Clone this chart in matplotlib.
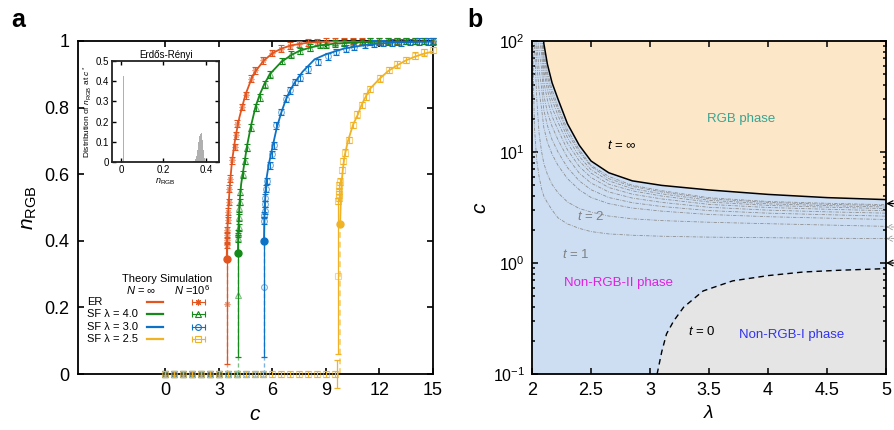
import numpy as np
import matplotlib
matplotlib.use("Agg")
import matplotlib.pyplot as plt
from matplotlib.ticker import FormatStrFormatter, MultipleLocator, LogLocator, NullFormatter

plt.rcParams["font.family"] = ["Liberation Sans", "DejaVu Sans"]
plt.rcParams["mathtext.fontset"] = "custom"
plt.rcParams["mathtext.rm"] = "Liberation Sans"
plt.rcParams["mathtext.it"] = "Liberation Sans:italic"
plt.rcParams["mathtext.bf"] = "Liberation Sans:bold"

# ---------------- panel a data ----------------
series_labels = ["ER", "SF λ = 4.0", "SF λ = 3.0", "SF λ = 2.5"]
series_colors = ["#e2551f", "#16891b", "#0d72c6", "#f0b325"]
sim_markers = [(8, 2, 0), "^", "o", "s"]

# theory (N = inf), first point is the jump at c*
er_th_c = [3.44, 3.46, 3.5, 3.55, 3.6, 3.67, 3.74, 3.9, 4.0, 4.15, 4.32, 4.5, 4.82, 5.0,
           5.5, 6.0, 6.5, 7.0, 7.5, 8.0, 9.0, 10.0, 12.0, 15.0]
er_th_n = [0.345, 0.40, 0.46, 0.51, 0.555, 0.60, 0.64, 0.70, 0.73, 0.77, 0.805, 0.84, 0.885, 0.905,
           0.94, 0.963, 0.977, 0.986, 0.991, 0.995, 0.998, 0.999, 1.0, 1.0]
gr_th_c = [4.07, 4.09, 4.12, 4.17, 4.25, 4.35, 4.45, 4.58, 4.8, 5.07, 5.3, 5.57, 5.9, 6.5,
           7.07, 7.5, 8.1, 8.7, 9.5, 10.5, 12.0, 15.0]
gr_th_n = [0.362, 0.42, 0.47, 0.52, 0.57, 0.605, 0.64, 0.685, 0.745, 0.805, 0.84, 0.873, 0.903, 0.937,
           0.958, 0.97, 0.98, 0.987, 0.992, 0.995, 0.998, 1.0]
bl_th_c = [5.53, 5.55, 5.58, 5.62, 5.68, 5.8, 6.0, 6.25, 6.5, 6.75, 7.0, 7.25, 7.7, 8.37,
           9.0, 10.0, 11.45, 13.0, 15.0]
bl_th_n = [0.40, 0.46, 0.51, 0.55, 0.59, 0.63, 0.68, 0.74, 0.785, 0.823, 0.852, 0.875, 0.908, 0.945,
           0.96, 0.977, 0.99, 0.996, 0.998]
ye_th_c = [9.8, 9.85, 9.9, 9.96, 10.05, 10.24, 10.52, 10.8, 11.0, 11.45, 12.0, 12.5, 13.0,
           13.5, 14.0, 14.5, 15.0]
ye_th_n = [0.45, 0.54, 0.585, 0.618, 0.655, 0.70, 0.748, 0.78, 0.808, 0.855, 0.886, 0.91, 0.927,
           0.942, 0.953, 0.962, 0.968]

# simulation (N = 10^6)
er_sim_c = [0, 0.5, 1, 1.5, 2, 2.5, 3,
            3.45, 3.46, 3.47, 3.48, 3.50, 3.52, 3.55, 3.59, 3.63, 3.74, 3.89, 3.98, 4.02,
            4.32, 4.5, 4.82, 5.0, 5.48, 6.0, 6.5, 7.0, 7.5, 8.0, 8.5, 9.0, 9.5, 10,
            10.5, 11, 11.5, 12, 12.5, 13, 13.5, 14, 14.5, 15]
er_sim_n = [0, 0, 0, 0, 0, 0, 0,
            0.387, 0.402, 0.417, 0.432, 0.462, 0.487, 0.517, 0.557, 0.587, 0.642, 0.682, 0.717, 0.752,
            0.802, 0.837, 0.887, 0.912, 0.942, 0.964, 0.977, 0.986, 0.991, 0.995, 0.997, 0.998, 0.999, 0.999,
            1, 1, 1, 1, 1, 1, 1, 1, 1, 1]
gr_sim_c = [0, 0.5, 1, 1.5, 2, 2.5, 3, 3.5, 4.0,
            4.09, 4.10, 4.11, 4.12, 4.14, 4.16, 4.19, 4.35, 4.45, 4.58, 4.82, 5.07, 5.29,
            5.57, 5.89, 6.56, 7.07, 7.57, 8.1, 8.65, 9.0, 9.5, 10, 10.5, 11, 11.5, 12,
            12.5, 13, 13.5, 14, 14.5, 15]
gr_sim_n = [0, 0, 0, 0, 0, 0, 0, 0, 0,
            0.407, 0.422, 0.44, 0.47, 0.497, 0.517, 0.547, 0.60, 0.64, 0.68, 0.74, 0.80, 0.83,
            0.87, 0.90, 0.94, 0.96, 0.97, 0.98, 0.99, 0.99, 0.993, 0.995, 0.996, 0.997, 0.998, 0.998,
            0.999, 0.999, 1, 1, 1, 1]
bl_sim_c = [0, 0.5, 1, 1.5, 2, 2.5, 3, 3.5, 4, 4.5, 5, 5.5,
            5.54, 5.55, 5.56, 5.57, 5.59, 5.66, 5.7, 5.85, 6.0, 6.07, 6.22, 6.5, 6.75, 6.97,
            7.25, 7.53, 8.0, 8.56, 9.12, 9.59, 10.15, 10.6, 11.2, 11.7, 12.2, 12.7, 13.2,
            13.7, 14.2, 14.7, 15]
bl_sim_n = [0, 0, 0, 0, 0, 0, 0, 0, 0, 0, 0, 0,
            0.46, 0.477, 0.49, 0.51, 0.53, 0.557, 0.58, 0.627, 0.66, 0.687, 0.747, 0.787, 0.827, 0.852,
            0.877, 0.89, 0.915, 0.937, 0.954, 0.967, 0.977, 0.983, 0.99, 0.992, 0.994, 0.995, 0.996,
            0.997, 0.998, 0.998, 0.999]
ye_sim_c = [0, 0.5, 1, 1.5, 2, 2.5, 3, 3.5, 4, 4.5, 5, 5.5, 6, 6.5, 7, 7.5, 8, 8.5, 9, 9.5,
            9.70, 9.71, 9.72, 9.73, 9.75, 9.8, 9.92, 9.98, 10.1, 10.27, 10.52, 10.76, 11.04,
            11.26, 11.49, 12.01, 12.52, 12.98, 13.47, 13.97, 14.48, 15]
ye_sim_n = [0, 0, 0, 0, 0, 0, 0, 0, 0, 0, 0, 0, 0, 0, 0, 0, 0, 0, 0, 0,
            0.52, 0.53, 0.54, 0.55, 0.567, 0.578, 0.613, 0.64, 0.665, 0.703, 0.748, 0.78, 0.808,
            0.833, 0.856, 0.888, 0.913, 0.93, 0.943, 0.956, 0.966, 0.973]
sim_err = 0.01

# simulation points at the transition with large spread
crit_sim_c = [3.44, 4.07, 5.53, 9.68, 9.6]
crit_sim_n = [0.21, 0.237, 0.26, 0.294, 0.0]
crit_sim_err = [0.18, 0.187, 0.21, 0.234, 0.042]
crit_sim_series = [0, 1, 2, 3, 3]

# inset histogram (ER, distribution of n_RGB at c*)
hist_x = [0.012, 0.345, 0.35, 0.355, 0.36, 0.365, 0.37, 0.375, 0.38, 0.385, 0.39, 0.395, 0.40]
hist_h = [0.425, 0.006, 0.015, 0.03, 0.06, 0.10, 0.13, 0.14, 0.145, 0.11, 0.06, 0.02, 0.005]

# ---------------- panel b data (log10 c) ----------------
lam_grid = [2.0, 2.02, 2.04, 2.06, 2.08, 2.1, 2.13, 2.17, 2.22, 2.3, 2.4, 2.5, 2.65, 2.85,
            3.1, 3.5, 4.0, 4.5, 5.0]
t_inf_logc = [3.5, 2.9, 2.6, 2.45, 2.3, 1.978, 1.792, 1.623, 1.477, 1.255, 1.061, 0.919, 0.813,
              0.740, 0.699, 0.658, 0.618, 0.589, 0.571]
t1_logc = [2.3, 1.23, 0.924, 0.778, 0.672, 0.602, 0.544, 0.477, 0.407, 0.352, 0.312, 0.283,
           0.262, 0.250, 0.241, 0.233, 0.228, 0.223, 0.220]
t2_logc = [3.0, 2.0, 1.477, 1.167, 1.009, 0.898, 0.799, 0.708, 0.633, 0.550, 0.491, 0.459,
           0.423, 0.398, 0.382, 0.367, 0.354, 0.342, 0.330]
t_mid_logc = [
    [3.15, 2.27, 1.81, 1.55, 1.40, 1.22, 1.09, 0.98, 0.88, 0.76, 0.66, 0.59, 0.535, 0.495, 0.467, 0.437, 0.417, 0.404, 0.392],
    [3.23, 2.41, 1.98, 1.74, 1.59, 1.38, 1.24, 1.11, 1.00, 0.86, 0.74, 0.66, 0.59, 0.543, 0.509, 0.472, 0.449, 0.435, 0.422],
    [3.29, 2.52, 2.13, 1.91, 1.76, 1.51, 1.36, 1.23, 1.11, 0.95, 0.81, 0.72, 0.64, 0.585, 0.546, 0.502, 0.476, 0.461, 0.449],
    [3.35, 2.62, 2.25, 2.05, 1.90, 1.63, 1.47, 1.32, 1.20, 1.02, 0.87, 0.77, 0.68, 0.62, 0.577, 0.528, 0.500, 0.484, 0.471],
    [3.39, 2.70, 2.35, 2.17, 2.02, 1.73, 1.56, 1.40, 1.27, 1.08, 0.92, 0.81, 0.71, 0.65, 0.603, 0.549, 0.519, 0.503, 0.490],
    [3.43, 2.77, 2.43, 2.26, 2.11, 1.80, 1.62, 1.47, 1.33, 1.13, 0.96, 0.84, 0.74, 0.67, 0.623, 0.565, 0.533, 0.517, 0.504],
    [3.46, 2.82, 2.50, 2.34, 2.18, 1.86, 1.68, 1.52, 1.38, 1.17, 1.00, 0.87, 0.76, 0.69, 0.640, 0.579, 0.546, 0.529, 0.517],
    [3.48, 2.86, 2.54, 2.39, 2.24, 1.91, 1.72, 1.56, 1.41, 1.20, 1.02, 0.88, 0.78, 0.70, 0.651, 0.588, 0.554, 0.538, 0.525],
]
t0_lam = [3.06, 3.1, 3.14, 3.2, 3.285, 3.45, 3.7, 4.0, 4.3, 4.6, 5.0]
t0_c = [0.1, 0.16, 0.23, 0.3, 0.40, 0.56, 0.69, 0.77, 0.83, 0.86, 0.89]
arrow_black_c = [3.43, 1.0]
arrow_gray_c = [2.11, 1.66]

# ---------------- figure ----------------
fig = plt.figure(figsize=(8.94, 4.30), dpi=100)
ax = fig.add_axes([0.0872, 0.1302, 0.397, 0.7745])
axb = fig.add_axes([0.5951, 0.1302, 0.396, 0.7745])
axi = fig.add_axes([0.1253, 0.623, 0.1197, 0.235])

th_c = [er_th_c, gr_th_c, bl_th_c, ye_th_c]
th_n = [er_th_n, gr_th_n, bl_th_n, ye_th_n]
sim_c = [er_sim_c, gr_sim_c, bl_sim_c, ye_sim_c]
sim_n = [er_sim_n, gr_sim_n, bl_sim_n, ye_sim_n]

for i in range(4):
    col = series_colors[i]
    # simulation
    eb = ax.errorbar(sim_c[i], sim_n[i], yerr=sim_err, fmt="none", ecolor=col,
                     elinewidth=0.8, capsize=2.2, capthick=0.8, zorder=3)
    for art in eb.lines[1] + eb.lines[2]:
        art.set_clip_on(False)
    ax.plot(sim_c[i], sim_n[i], ls="none", marker=sim_markers[i], mfc="none", mec=col,
            mew=0.8, ms=4.2, alpha=0.55, clip_on=False, zorder=3)
    # theory
    ax.plot([th_c[i][0], th_c[i][0]], [0, th_n[i][0]], ls=(0, (3, 2)), color=col,
            lw=1.4 if i == 3 else 1.0, alpha=0.55, zorder=2)
    ax.plot(th_c[i], th_n[i], color=col, lw=1.3, zorder=4)
    ax.plot(th_c[i][0], th_n[i][0], "o", color=col, ms=5, zorder=5)

for c, n, e, s in zip(crit_sim_c, crit_sim_n, crit_sim_err, crit_sim_series):
    col = series_colors[s]
    eb = ax.errorbar([c], [n], yerr=[e], fmt="none", ecolor=col, elinewidth=0.9,
                     capsize=2.5, capthick=0.9, zorder=3)
    for art in eb.lines[1] + eb.lines[2]:
        art.set_clip_on(False)
    if n > 0:
        ax.plot([c], [n], ls="none", marker=sim_markers[s], mfc="none", mec=col,
                mew=0.8, ms=4.2, alpha=0.55, zorder=3)

ax.set_xlim(-4.9, 15)
ax.set_ylim(0, 1)
ax.set_xticks([0, 3, 6, 9, 12, 15])
ax.set_yticks([0, 0.2, 0.4, 0.6, 0.8, 1.0])
ax.yaxis.set_major_formatter(FormatStrFormatter("%g"))
ax.tick_params(direction="in", top=True, right=True, length=4, width=1.2, labelsize=13, pad=6)
for sp in ax.spines.values():
    sp.set_linewidth(1.3)
ax.set_xlabel("$c$", fontsize=15, labelpad=4)
ax.set_ylabel(r"$n_{\rm RGB}$", fontsize=15, labelpad=4)

# legend drawn by hand (two columns: theory / simulation)
ax.text(0.25, 0.285, "Theory Simulation", transform=ax.transAxes, fontsize=8, ha="center", va="center")
ax.text(0.177, 0.252, r"$N$ = $\infty$", transform=ax.transAxes, fontsize=8, ha="center", va="center")
ax.text(0.321, 0.252, r"$N$ =10$^6$", transform=ax.transAxes, fontsize=8, ha="center", va="center")
for i in range(4):
    col = series_colors[i]
    y = 0.2171 - i * 0.03754
    ax.text(0.027 if i == 0 else 0.025, y, series_labels[i], transform=ax.transAxes,
            fontsize=8, ha="left", va="center")
    ax.plot([0.1944, 0.2386], [y, y], transform=ax.transAxes, color=col, lw=1.6)
    ax.plot([0.32, 0.3577], [y, y], transform=ax.transAxes, color=col, lw=0.8)
    ax.plot([0.32, 0.3577], [y, y], transform=ax.transAxes, color=col, ls="none",
            marker="|", ms=5, mew=0.8)
    ax.plot([0.3389], [y], transform=ax.transAxes, color=col, ls="none",
            marker=sim_markers[i], mfc="none", mew=0.8, ms=4.2)

# inset
axi.bar(hist_x, hist_h, width=0.0065, color="#b0b0b0")
axi.set_xlim(-0.042, 0.462)
axi.set_ylim(0, 0.5)
axi.set_xticks([0, 0.2, 0.4])
axi.set_yticks([0, 0.1, 0.2, 0.3, 0.4, 0.5])
axi.xaxis.set_major_formatter(FormatStrFormatter("%g"))
axi.yaxis.set_major_formatter(FormatStrFormatter("%g"))
axi.tick_params(direction="in", top=True, right=True, length=3, width=1.0, labelsize=7, pad=2)
for sp in axi.spines.values():
    sp.set_linewidth(1.3)
    sp.set_color("#222222")
axi.set_title("Erdős-Rényi", fontsize=7, pad=2)
axi.set_ylabel(r"Distribution of $n_{\rm RGB}$ at $c^*$", fontsize=6, labelpad=1)
axi.set_xlabel(r"$n_{\rm RGB}$", fontsize=6.5, labelpad=1)

# ---------------- panel b ----------------
axb.set_yscale("log")
axb.set_facecolor("#cddef3")
t_inf_c = 10 ** np.array(t_inf_logc)
axb.fill_between(lam_grid, t_inf_c, 1e4, color="#fce7c9", lw=0, zorder=1)
axb.fill_between(t0_lam, 1e-2, t0_c, color="#e5e5e5", lw=0, zorder=1)
dashdot = (0, (4, 1.5, 1, 1.5))
for logc in [t1_logc, t2_logc] + t_mid_logc:
    axb.plot(lam_grid, 10 ** np.array(logc), color="#8e8e8e", lw=0.6, ls=dashdot, zorder=2)
axb.plot(lam_grid, t_inf_c, color="k", lw=1.1, zorder=3)
axb.plot(t0_lam, t0_c, color="k", lw=1.0, ls=(0, (4, 3)), zorder=3)

for c in arrow_black_c:
    axb.annotate("", xy=(5.0, c), xytext=(5.07, c), annotation_clip=False,
                 arrowprops=dict(arrowstyle="->", color="k", lw=0.9, shrinkA=0, shrinkB=0))
for c in arrow_gray_c:
    axb.annotate("", xy=(5.0, c), xytext=(5.07, c), annotation_clip=False,
                 arrowprops=dict(arrowstyle="->", color="#999999", lw=0.6, ls="--",
                                 shrinkA=0, shrinkB=0))

axb.text(3.77, 20, "RGB phase", color="#36a593", fontsize=9.5, ha="center", va="center")
axb.text(2.76, 11.5, r"$t$ = $\infty$", color="k", fontsize=9.5, ha="center", va="center")
axb.text(2.5, 2.6, r"$t$ = 2", color="#808080", fontsize=9.5, ha="center", va="center")
axb.text(2.37, 1.2, r"$t$ = 1", color="#808080", fontsize=9.5, ha="center", va="center")
axb.text(2.73, 0.66, "Non-RGB-II phase", color="#e020e0", fontsize=9.5, ha="center", va="center")
axb.text(3.44, 0.244, r"$t$ = 0", color="k", fontsize=9.5, ha="center", va="center")
axb.text(4.2, 0.226, "Non-RGB-I phase", color="#3333ee", fontsize=9.5, ha="center", va="center")

axb.set_xlim(2, 5)
axb.set_ylim(0.1, 100)
axb.xaxis.set_major_locator(MultipleLocator(0.5))
axb.xaxis.set_major_formatter(FormatStrFormatter("%g"))
axb.yaxis.set_major_locator(LogLocator(base=10, numticks=10))
axb.yaxis.set_minor_locator(LogLocator(base=10, subs=np.arange(2, 10), numticks=10))
axb.yaxis.set_minor_formatter(NullFormatter())
axb.tick_params(which="both", direction="in", top=True, right=True, width=1.1)
axb.tick_params(which="major", length=4)
axb.tick_params(which="minor", length=2)
axb.tick_params(axis="x", labelsize=13, pad=6)
axb.tick_params(axis="y", labelsize=11.5, pad=5)
for sp in axb.spines.values():
    sp.set_linewidth(1.3)
    sp.set_zorder(5)
axb.set_xlabel(r"$\lambda$", fontsize=14, labelpad=4)
axb.set_ylabel("$c$", fontsize=15, labelpad=2)

fig.text(0.020, 0.953, "a", fontsize=18, fontweight="bold", ha="center", va="center")
fig.text(0.531, 0.953, "b", fontsize=18, fontweight="bold", ha="center", va="center")

fig.savefig("out.png", dpi=100)
